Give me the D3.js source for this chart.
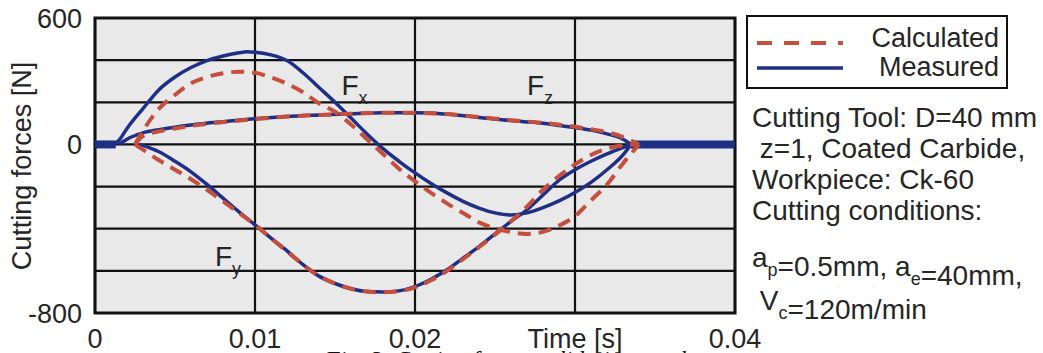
<!DOCTYPE html>
<html>
<head>
<meta charset="utf-8">
<script src="https://cdn.jsdelivr.net/npm/d3@7"></script>
<style>
  body { margin: 0; background: #fff; }
  text { font-family: "Liberation Sans", Arial, sans-serif; fill: #262626; }
</style>
</head>
<body>
<script>
// axis ticks
var xTicks = [0, 0.01, 0.02, 0.03, 0.04];
var xTickLabels = ["0", "0.01", "0.02", "Time [s]", "0.04"];
var yTicks = [600, 400, 200, 0, -200, -400, -600, -800];
var yLabelTicks = [600, 0, -800];

// measured (solid blue)
var tFxMeas = [0, 0.001, 0.0015, 0.002, 0.003, 0.004, 0.005, 0.006, 0.007, 0.008, 0.009, 0.0095, 0.010, 0.011, 0.012, 0.013, 0.014, 0.015, 0.016, 0.017, 0.018, 0.019, 0.020, 0.021, 0.022, 0.023, 0.024, 0.025, 0.026, 0.027, 0.028, 0.029, 0.030, 0.031, 0.032, 0.033, 0.0335];
var fxMeas = [0, 0, 20, 76, 170, 260, 320, 365, 398, 420, 435, 440, 438, 425, 398, 340, 270, 200, 125, 50, -20, -80, -135, -185, -230, -270, -302, -325, -335, -325, -300, -268, -228, -180, -120, -50, 0];

var tFyMeas = [0.0028, 0.004, 0.005, 0.006, 0.007, 0.008, 0.009, 0.010, 0.011, 0.012, 0.013, 0.014, 0.015, 0.016, 0.017, 0.018, 0.019, 0.020, 0.021, 0.022, 0.023, 0.024, 0.025, 0.026, 0.027, 0.028, 0.029, 0.030, 0.031, 0.032, 0.033, 0.0335];
var fyMeas = [0, -35, -80, -130, -190, -255, -320, -382, -445, -505, -570, -625, -660, -685, -698, -700, -695, -675, -640, -595, -540, -485, -425, -365, -310, -240, -170, -120, -80, -45, -15, 0];

var tFzMeas = [0.0015, 0.002, 0.003, 0.004, 0.005, 0.006, 0.008, 0.010, 0.012, 0.014, 0.016, 0.018, 0.020, 0.022, 0.024, 0.026, 0.027, 0.028, 0.029, 0.030, 0.031, 0.032, 0.033, 0.0335];
var fzMeas = [0, 25, 55, 70, 82, 92, 108, 122, 133, 140, 146, 150, 150, 143, 128, 113, 107, 100, 90, 80, 68, 50, 25, 0];

// idle (no cut) parts of the measured signal
var idleSpans = [[0, 0.0013], [0.0335, 0.04]];

// calculated (dashed red)
var tFxCalc = [0.0025, 0.003, 0.004, 0.005, 0.006, 0.007, 0.008, 0.009, 0.010, 0.011, 0.012, 0.013, 0.014, 0.015, 0.016, 0.017, 0.018, 0.019, 0.020, 0.021, 0.022, 0.023, 0.024, 0.025, 0.026, 0.027, 0.028, 0.029, 0.030, 0.031, 0.032, 0.033, 0.034];
var fxCalc = [0, 65, 170, 235, 290, 320, 338, 345, 340, 318, 288, 248, 195, 155, 95, 25, -45, -115, -175, -230, -280, -325, -370, -398, -416, -425, -415, -385, -340, -265, -190, -90, 0];

var tFyCalc = [0.0025, 0.003, 0.004, 0.005, 0.006, 0.007, 0.008, 0.009, 0.010, 0.011, 0.012, 0.013, 0.014, 0.015, 0.016, 0.017, 0.018, 0.019, 0.020, 0.021, 0.022, 0.023, 0.024, 0.025, 0.026, 0.027, 0.028, 0.029, 0.030, 0.031, 0.032, 0.033, 0.034];
var fyCalc = [0, -25, -75, -120, -165, -215, -270, -325, -382, -445, -508, -570, -625, -660, -685, -698, -702, -697, -678, -645, -600, -545, -488, -428, -365, -295, -215, -150, -95, -50, -20, -5, 0];

var tFzCalc = [0.0025, 0.003, 0.004, 0.005, 0.006, 0.008, 0.010, 0.012, 0.014, 0.016, 0.018, 0.020, 0.022, 0.024, 0.026, 0.028, 0.030, 0.031, 0.032, 0.033, 0.034];
var fzCalc = [0, 40, 62, 76, 88, 106, 120, 132, 140, 146, 150, 150, 144, 130, 115, 102, 84, 72, 58, 35, 0];

var seriesNames = ["Calculated", "Measured"];
var forceLabels = [
  {name: "F", sub: "x", t: 0.0154, v: 235},
  {name: "F", sub: "z", t: 0.0270, v: 235},
  {name: "F", sub: "y", t: 0.0075, v: -575}
];
var noteLines = [
  [["Cutting Tool: D=40 mm", ""]],
  [[" z=1, Coated Carbide,", ""]],
  [["Workpiece: Ck-60", ""]],
  [["Cutting conditions:", ""]],
  [["a", "p"], ["=0.5mm, a", "e"], ["=40mm,", ""]],
  [[" V", "c"], ["=120m/min", ""]]
];
var noteBaselines = [127, 158, 189, 220, 267, 310];
var caption = "Fig. 3. Cutting forces validation results";

var width = 1043;
var height = 353;
var blue = "#1f2f86";
var red = "#c64e3c";

var svg = d3.select("body").append("svg")
  .attr("width", width)
  .attr("height", height);

var x = d3.scaleLinear().domain([0, 0.04]).range([95, 735]);
var y = d3.scaleLinear().domain([-800, 600]).range([313, 18]);

// plot background
svg.append("rect")
  .attr("x", x(0)).attr("y", y(600))
  .attr("width", x(0.04) - x(0)).attr("height", y(-800) - y(600))
  .attr("fill", "#e9e9e9");

// grid
svg.append("g").selectAll("line").data(yTicks).enter().append("line")
  .attr("x1", x(0)).attr("x2", x(0.04))
  .attr("y1", function(d){ return y(d); }).attr("y2", function(d){ return y(d); })
  .attr("stroke", "#111").attr("stroke-width", 2.2);
svg.append("g").selectAll("line").data(xTicks).enter().append("line")
  .attr("y1", y(600)).attr("y2", y(-800))
  .attr("x1", function(d){ return x(d); }).attr("x2", function(d){ return x(d); })
  .attr("stroke", "#111").attr("stroke-width", 2.2);

svg.append("rect")
  .attr("x", x(0)).attr("y", y(600))
  .attr("width", x(0.04) - x(0)).attr("height", y(-800) - y(600))
  .attr("fill", "none").attr("stroke", "#111").attr("stroke-width", 3);

// tick labels
svg.append("g").selectAll("text").data(yLabelTicks).enter().append("text")
  .attr("x", 82).attr("y", function(d){ return y(d); })
  .attr("dy", "0.36em")
  .attr("text-anchor", "end")
  .style("font-size", "27px")
  .text(function(d){ return d; });

svg.append("g").selectAll("text").data(xTicks).enter().append("text")
  .attr("x", function(d){ return x(d); }).attr("y", 348)
  .attr("text-anchor", "middle")
  .style("font-size", "27px")
  .text(function(d, i){ return xTickLabels[i]; });

svg.append("text")
  .attr("transform", "translate(31,166) rotate(-90)")
  .attr("text-anchor", "middle")
  .style("font-size", "27px")
  .text("Cutting forces [N]");

var line = d3.line()
  .x(function(d){ return x(d[0]); })
  .y(function(d){ return y(d[1]); })
  .curve(d3.curveMonotoneX);

function pairs(ts, vs) { return ts.map(function(t, i){ return [t, vs[i]]; }); }

var plot = svg.append("g");

// measured
plot.selectAll("path.idle").data(idleSpans).enter().append("path")
  .attr("class", "idle")
  .attr("d", function(d){ return line([[d[0], 0], [d[1], 0]]); })
  .attr("fill", "none").attr("stroke", blue).attr("stroke-width", 8);

plot.selectAll("path.meas")
  .data([pairs(tFxMeas, fxMeas), pairs(tFyMeas, fyMeas), pairs(tFzMeas, fzMeas)])
  .enter().append("path")
  .attr("class", "meas")
  .attr("d", line)
  .attr("fill", "none").attr("stroke", blue).attr("stroke-width", 3.5);

// calculated
plot.selectAll("path.calc")
  .data([pairs(tFxCalc, fxCalc), pairs(tFyCalc, fyCalc), pairs(tFzCalc, fzCalc)])
  .enter().append("path")
  .attr("class", "calc")
  .attr("d", line)
  .attr("fill", "none").attr("stroke", red).attr("stroke-width", 4)
  .attr("stroke-dasharray", "13,8");

// force labels
var fl = svg.append("g").selectAll("text").data(forceLabels).enter().append("text")
  .attr("x", function(d){ return x(d.t); }).attr("y", function(d){ return y(d.v); })
  .style("font-size", "28px");
fl.append("tspan").text(function(d){ return d.name; });
fl.append("tspan").attr("dy", 9).style("font-size", "18px").text(function(d){ return d.sub; });

// legend
var legend = svg.append("g");
legend.append("rect")
  .attr("x", 747).attr("y", 16).attr("width", 260).attr("height", 72)
  .attr("fill", "#fff").attr("stroke", "#111").attr("stroke-width", 2);
legend.selectAll("line").data(seriesNames).enter().append("line")
  .attr("x1", 757).attr("x2", 843)
  .attr("y1", function(d, i){ return 43 + i * 25; }).attr("y2", function(d, i){ return 43 + i * 25; })
  .attr("stroke", function(d, i){ return i === 0 ? red : blue; })
  .attr("stroke-width", function(d, i){ return i === 0 ? 4 : 3.5; })
  .attr("stroke-dasharray", function(d, i){ return i === 0 ? "15,12" : null; });
legend.selectAll("text").data(seriesNames).enter().append("text")
  .attr("x", 999).attr("y", function(d, i){ return 47 + i * 29; })
  .attr("text-anchor", "end")
  .style("font-size", "27px")
  .text(function(d){ return d; });

// notes on tool and conditions
var notes = svg.append("g").selectAll("text").data(noteLines).enter().append("text")
  .attr("x", 752).attr("y", function(d, i){ return noteBaselines[i]; })
  .attr("xml:space", "preserve")
  .style("white-space", "pre")
  .style("font-size", "28px");
notes.each(function(parts){
  var t = d3.select(this);
  parts.forEach(function(p){
    t.append("tspan").text(p[0]);
    if (p[1]) {
      t.append("tspan").attr("dy", 9).style("font-size", "18px").text(p[1]);
      t.append("tspan").attr("dy", -9).text("");
    }
  });
});

svg.append("text")
  .attr("x", 325).attr("y", 367)
  .style("font-family", "'Liberation Serif', 'Times New Roman', serif")
  .style("font-style", "italic")
  .style("font-size", "24px")
  .style("fill", "#111")
  .text(caption);
</script>
</body>
</html>
